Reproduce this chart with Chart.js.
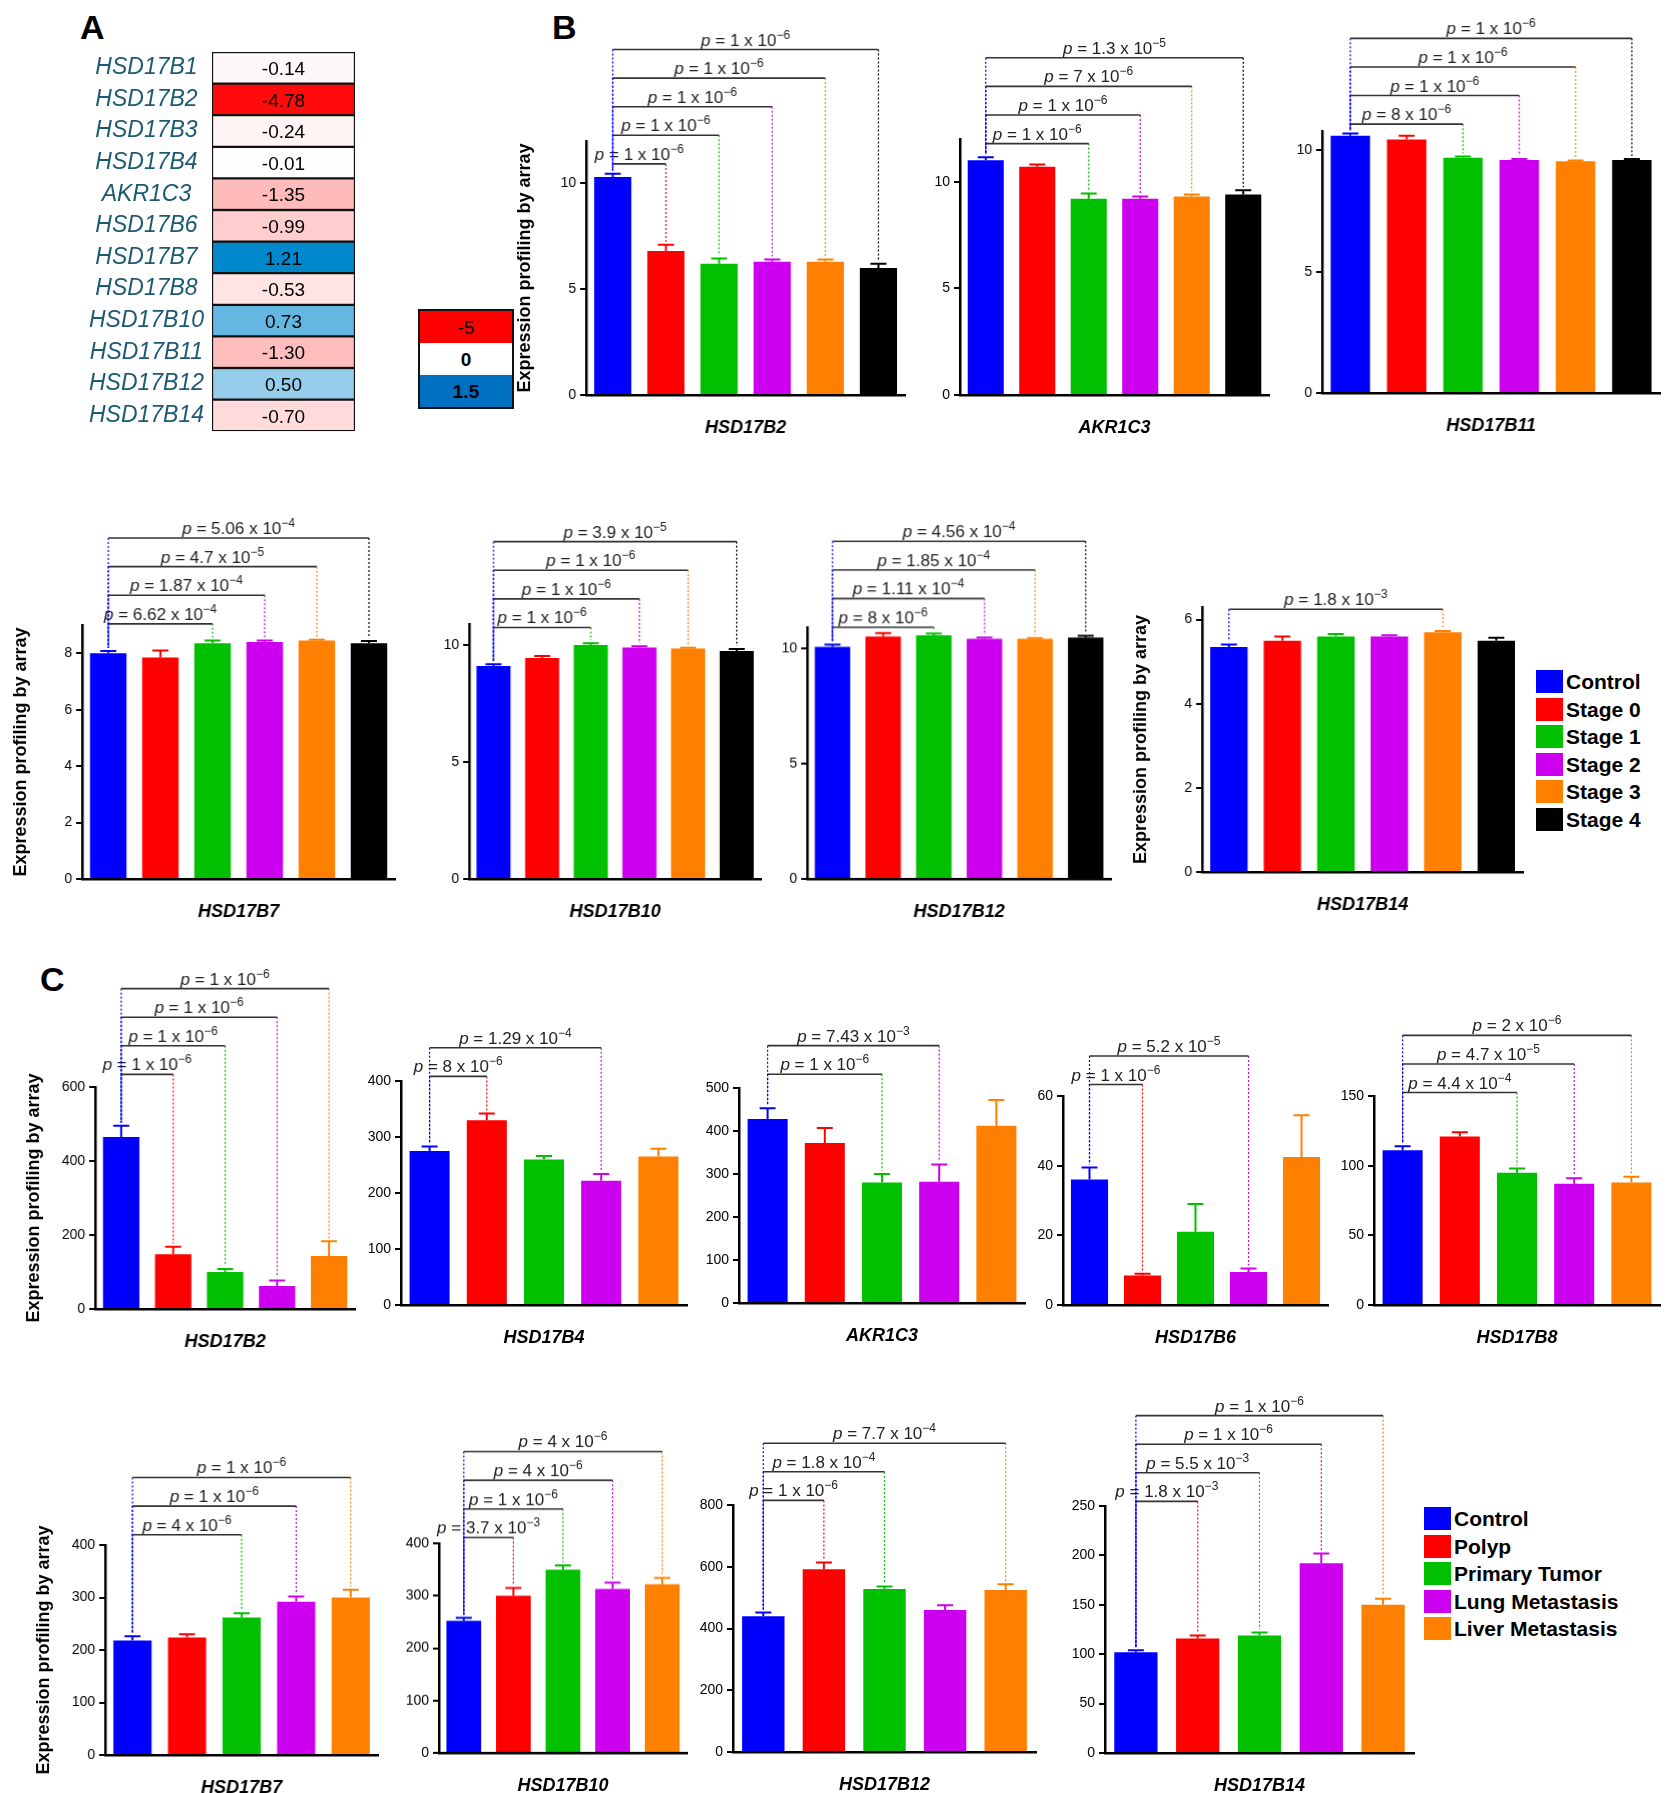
<!DOCTYPE html>
<html lang="en">
<head>
<meta charset="UTF-8">
<title>HSD17B expression</title>
<script src="https://cdn.jsdelivr.net/npm/chart.js"></script>
<style>
  body { margin: 0; background: #fff; font-family: Arial, "Liberation Sans", sans-serif; }
  #page { position: relative; width: 1672px; height: 1793px; }
  canvas { position: absolute; }
  .lbl { position: absolute; font-weight: bold; font-size: 34px; }
  .leg { position: absolute; font-weight: bold; font-size: 21px; line-height: 27.5px; }
  .leg span { display: inline-block; width: 27px; height: 23px; vertical-align: -4px; margin-right: 3px; }
  .hl { position: absolute; left: 418px; top: 309px; width: 92px; border: 2px solid #111; }
  .hl div { height: 32px; text-align: center; font-size: 19px; line-height: 34px; }
</style>
</head>
<body>
<div id="page">
  <div class="lbl" style="left:80px;top:8px">A</div>
  <div class="lbl" style="left:552px;top:8px">B</div>
  <div class="lbl" style="left:40px;top:960px">C</div>
  <div class="hl">
    <div style="background:#ff0000">-5</div>
    <div style="background:#fff;font-weight:bold">0</div>
    <div style="background:#0070c0;font-weight:bold">1.5</div>
  </div>
  <div class="leg" id="legB" style="left:1536px;top:668px"></div>
  <div class="leg" id="legC" style="left:1424px;top:1505px"></div>
</div>
<script>
  // ---- panel A: log fold change heat map
  const heatGenes = ['HSD17B1','HSD17B2','HSD17B3','HSD17B4','AKR1C3','HSD17B6','HSD17B7','HSD17B8','HSD17B10','HSD17B11','HSD17B12','HSD17B14'];
  const heatValues = [-0.14, -4.78, -0.24, -0.01, -1.35, -0.99, 1.21, -0.53, 0.73, -1.30, 0.50, -0.70];

  // ---- panel B: colon cancer stages
  const stageGroups = ['Control','Stage 0','Stage 1','Stage 2','Stage 3','Stage 4'];
  const stageColors = ['#0000ff','#ff0000','#00c000','#cc00ee','#ff8000','#000000'];

  const B_HSD17B2 = [10.3, 6.8, 6.2, 6.3, 6.3, 6.0];
  const B_HSD17B2_err = [0.15, 0.3, 0.25, 0.1, 0.1, 0.2];
  const B_HSD17B2_p = [[1,'1','-6'],[2,'1','-6'],[3,'1','-6'],[4,'1','-6'],[5,'1','-6']];

  const B_AKR1C3 = [11.0, 10.7, 9.2, 9.2, 9.3, 9.4];
  const B_AKR1C3_err = [0.15, 0.1, 0.25, 0.1, 0.1, 0.2];
  const B_AKR1C3_p = [[2,'1','-6'],[3,'1','-6'],[4,'7','-6'],[5,'1.3','-5']];

  const B_HSD17B11 = [10.6, 10.45, 9.7, 9.6, 9.55, 9.6];
  const B_HSD17B11_err = [0.1, 0.15, 0.05, 0.05, 0.03, 0.05];
  const B_HSD17B11_p = [[2,'8','-6'],[3,'1','-6'],[4,'1','-6'],[5,'1','-6']];

  const B_HSD17B7 = [8.0, 7.85, 8.35, 8.4, 8.45, 8.35];
  const B_HSD17B7_err = [0.08, 0.25, 0.1, 0.05, 0.03, 0.08];
  const B_HSD17B7_p = [[2,'6.62','-4'],[3,'1.87','-4'],[4,'4.7','-5'],[5,'5.06','-4']];

  const B_HSD17B10 = [9.1, 9.45, 10.0, 9.9, 9.85, 9.75];
  const B_HSD17B10_err = [0.08, 0.08, 0.08, 0.05, 0.03, 0.08];
  const B_HSD17B10_p = [[2,'1','-6'],[3,'1','-6'],[4,'1','-6'],[5,'3.9','-5']];

  const B_HSD17B12 = [10.05, 10.5, 10.55, 10.4, 10.4, 10.45];
  const B_HSD17B12_err = [0.1, 0.15, 0.08, 0.05, 0.03, 0.08];
  const B_HSD17B12_p = [[2,'8','-6'],[3,'1.11','-4'],[4,'1.85','-4'],[5,'4.56','-4']];

  const B_HSD17B14 = [5.35, 5.5, 5.6, 5.6, 5.7, 5.5];
  const B_HSD17B14_err = [0.06, 0.1, 0.06, 0.03, 0.03, 0.07];
  const B_HSD17B14_p = [[4,'1.8','-3']];

  // ---- panel C: polyp / tumor / metastasis
  const tumorGroups = ['Control','Polyp','Primary Tumor','Lung Metastasis','Liver Metastasis'];
  const tumorColors = ['#0000ff','#ff0000','#00c000','#cc00ee','#ff8000'];

  const C_HSD17B2 = [465, 148, 100, 62, 143];
  const C_HSD17B2_err = [30, 20, 8, 15, 40];
  const C_HSD17B2_p = [[1,'1','-6'],[2,'1','-6'],[3,'1','-6'],[4,'1','-6']];

  const C_HSD17B4 = [275, 330, 260, 222, 265];
  const C_HSD17B4_err = [8, 12, 6, 12, 14];
  const C_HSD17B4_p = [[1,'8','-6'],[3,'1.29','-4']];

  const C_AKR1C3 = [428, 372, 280, 282, 412];
  const C_AKR1C3_err = [25, 35, 20, 40, 60];
  const C_AKR1C3_p = [[2,'1','-6'],[3,'7.43','-3']];

  const C_HSD17B6 = [36, 8.5, 21, 9.5, 42.5];
  const C_HSD17B6_err = [3.5, 0.5, 8, 1, 12];
  const C_HSD17B6_p = [[1,'1','-6'],[3,'5.2','-5']];

  const C_HSD17B8 = [111, 121, 95, 87, 88];
  const C_HSD17B8_err = [3, 3, 3, 4, 4];
  const C_HSD17B8_p = [[2,'4.4','-4'],[3,'4.7','-5'],[4,'2','-6']];

  const C_HSD17B7 = [218, 224, 262, 292, 300];
  const C_HSD17B7_err = [8, 6, 8, 10, 15];
  const C_HSD17B7_p = [[2,'4','-6'],[3,'1','-6'],[4,'1','-6']];

  const C_HSD17B10 = [252, 300, 350, 313, 322];
  const C_HSD17B10_err = [6, 15, 8, 12, 12];
  const C_HSD17B10_p = [[1,'3.7','-3'],[2,'1','-6'],[3,'4','-6'],[4,'4','-6']];

  const C_HSD17B12 = [440, 592, 528, 460, 525];
  const C_HSD17B12_err = [12, 22, 8, 15, 18];
  const C_HSD17B12_p = [[1,'1','-6'],[2,'1.8','-4'],[4,'7.7','-4']];

  const C_HSD17B14 = [102, 116, 119, 192, 150];
  const C_HSD17B14_err = [2, 3, 3, 10, 6];
  const C_HSD17B14_p = [[1,'1.8','-3'],[2,'5.5','-3'],[3,'1','-6'],[4,'1','-6']];

  const S = 1.145;           // reference sketch px -> page px
  const YW = 72, XH = 48, PT = 118;
  const page = document.getElementById('page');

  function newCanvas(x, y, w, h) {
    const c = document.createElement('canvas');
    c.style.left = x + 'px'; c.style.top = y + 'px';
    c.style.width = w + 'px'; c.style.height = h + 'px';
    c.width = w; c.height = h;
    page.appendChild(c);
    return c;
  }

  function drawP(ctx, cx, y, mant, exp) {
    const f = '17px Arial', fi = 'italic 17px Arial', fe = '12px Arial';
    const body = ' = ' + mant + ' x 10', sup = exp.replace('-', '\u2212');
    ctx.font = fi; let w = ctx.measureText('p').width;
    ctx.font = f; w += ctx.measureText(body).width;
    ctx.font = fe; w += ctx.measureText(sup).width;
    let x = cx - w / 2;
    ctx.fillStyle = '#222'; ctx.textBaseline = 'alphabetic'; ctx.textAlign = 'left';
    ctx.font = fi; ctx.fillText('p', x, y); x += ctx.measureText('p').width;
    ctx.font = f; ctx.fillText(body, x, y); x += ctx.measureText(body).width;
    ctx.font = fe; ctx.fillText(sup, x, y - 7);
  }

  const barExtras = {
    id: 'barExtras',
    afterDatasetsDraw(chart) {
      const o = chart.options.plugins.barExtras;
      const ctx = chart.ctx, ys = chart.scales.y, bars = chart.getDatasetMeta(0).data;
      const vals = chart.data.datasets[0].data;
      const top = i => ys.getPixelForValue(vals[i] + o.err[i]);
      ctx.save();
      // error bars (upper only)
      bars.forEach((b, i) => {
        ctx.strokeStyle = o.colors[i]; ctx.lineWidth = 2;
        ctx.beginPath();
        ctx.moveTo(b.x, b.y); ctx.lineTo(b.x, top(i));
        ctx.moveTo(b.x - 8, top(i)); ctx.lineTo(b.x + 8, top(i));
        ctx.stroke();
      });
      // significance brackets
      o.p.forEach(([idx, mant, exp], k) => {
        const y = chart.chartArea.top + o.bStart * S - k * 28.6;
        const x0 = bars[0].x, x1 = bars[idx].x;
        ctx.setLineDash([2, 2]); ctx.lineWidth = 1.2;
        ctx.strokeStyle = o.colors[0];
        ctx.beginPath(); ctx.moveTo(x0, y); ctx.lineTo(x0, top(0) - 3); ctx.stroke();
        ctx.strokeStyle = o.colors[idx];
        ctx.beginPath(); ctx.moveTo(x1, y); ctx.lineTo(x1, top(idx) - 3); ctx.stroke();
        ctx.setLineDash([]); ctx.strokeStyle = '#333'; ctx.lineWidth = 1.6;
        ctx.beginPath(); ctx.moveTo(x0, y); ctx.lineTo(x1, y); ctx.stroke();
        drawP(ctx, (x0 + x1) / 2, y - 4, mant, exp);
      });
      ctx.restore();
    }
  };

  function barChart(spec) {
    const [xL, xR, yTop, y0] = spec.box;
    const cx = xL * S - YW, cy = yTop * S - PT;
    const cw = (xR - xL) * S + YW + 4, ch = PT + (y0 - yTop) * S + XH;
    const canvas = newCanvas(cx, cy, cw, ch);
    new Chart(canvas, {
      type: 'bar',
      data: {
        labels: spec.groups,
        datasets: [{ data: spec.vals, backgroundColor: spec.colors, barPercentage: 0.7, categoryPercentage: 1 }]
      },
      plugins: [barExtras],
      options: {
        responsive: false, animation: false,
        layout: { padding: { top: PT, right: 4 } },
        plugins: {
          legend: { display: false }, tooltip: { enabled: false },
          barExtras: { err: spec.err, p: spec.p, colors: spec.colors, bStart: spec.bStart }
        },
        scales: {
          x: {
            ticks: { display: false },
            grid: { display: false },
            border: { color: '#000', width: 2.5 },
            title: { display: true, text: spec.gene, font: { size: 18, weight: 'bold', style: 'italic' }, color: '#000', padding: { top: 12 } },
            afterFit: s => { s.height = XH; }
          },
          y: {
            min: 0, max: spec.ymax,
            ticks: { color: '#000', font: { size: 14 }, padding: 4 },
            afterBuildTicks: s => {
              const t = [];
              for (let v = 0; v <= spec.ymax + 1e-9; v += spec.step) t.push({ value: v });
              s.ticks = t;
            },
            grid: { drawOnChartArea: false, color: '#000', tickLength: 6, lineWidth: 2 },
            border: { color: '#000', width: 2.5 },
            title: { display: !!spec.yTitle, text: 'Expression profiling by array', font: { size: 18, weight: 'bold' }, color: '#000', padding: 0 },
            afterFit: s => { s.width = YW; }
          }
        }
      }
    });
  }

  const B = (vals, err, p, gene, box, ymax, step, bStart, yTitle) =>
    barChart({ groups: stageGroups, colors: stageColors, vals, err, p, gene, box, ymax, step, bStart, yTitle });
  const C = (vals, err, p, gene, box, ymax, step, bStart, yTitle) =>
    barChart({ groups: tumorGroups, colors: tumorColors, vals, err, p, gene, box, ymax, step, bStart, yTitle });

  B(B_HSD17B2, B_HSD17B2_err, B_HSD17B2_p, 'HSD17B2', [512, 790, 123, 345], 12, 5, 20, true);
  B(B_AKR1C3, B_AKR1C3_err, B_AKR1C3_p, 'AKR1C3', [838, 1108, 121, 345], 12, 5, 4);
  B(B_HSD17B11, B_HSD17B11_err, B_HSD17B11_p, 'HSD17B11', [1155, 1450, 114, 343], 10.8, 5, -6);
  B(B_HSD17B7, B_HSD17B7_err, B_HSD17B7_p, 'HSD17B7', [72, 345, 546, 768], 9, 2, -1, true);
  B(B_HSD17B10, B_HSD17B10_err, B_HSD17B10_p, 'HSD17B10', [410, 665, 545, 768], 10.9, 5, 3);
  B(B_HSD17B12, B_HSD17B12_err, B_HSD17B12_p, 'HSD17B12', [705, 970, 548, 768], 10.9, 5, 0);
  B(B_HSD17B14, B_HSD17B14_err, B_HSD17B14_p, 'HSD17B14', [1050, 1330, 530, 762], 6.3, 2, 2, true);

  C(C_HSD17B2, C_HSD17B2_err, C_HSD17B2_p, 'HSD17B2', [83, 310, 949, 1143], 600, 200, -11, true);
  C(C_HSD17B4, C_HSD17B4_err, C_HSD17B4_p, 'HSD17B4', [350, 600, 944, 1140], 400, 100, -4);
  C(C_AKR1C3, C_AKR1C3_err, C_AKR1C3_p, 'AKR1C3', [645, 895, 950, 1138], 500, 100, -12);
  C(C_HSD17B6, C_HSD17B6_err, C_HSD17B6_p, 'HSD17B6', [928, 1160, 957, 1140], 60, 20, -10);
  C(C_HSD17B8, C_HSD17B8_err, C_HSD17B8_p, 'HSD17B8', [1200, 1450, 957, 1140], 150, 50, -3);
  C(C_HSD17B7, C_HSD17B7_err, C_HSD17B7_p, 'HSD17B7', [92, 330, 1349, 1533], 400, 100, -9, true);
  C(C_HSD17B10, C_HSD17B10_err, C_HSD17B10_p, 'HSD17B10', [383, 600, 1348, 1531], 400, 100, -5);
  C(C_HSD17B12, C_HSD17B12_err, C_HSD17B12_p, 'HSD17B12', [640, 905, 1314, 1530], 800, 200, -4);
  C(C_HSD17B14, C_HSD17B14_err, C_HSD17B14_p, 'HSD17B14', [965, 1235, 1315, 1531], 250, 50, -4);

  // ---- heat map (panel A)
  function heatColor(v) {
    if (v < 0) { const t = Math.min(1, -v / 5); const g = Math.round(255 * (1 - t)); return `rgb(255,${g},${g})`; }
    const t = Math.min(1, v / 1.2);
    return `rgb(${Math.round(255 * (1 - t))},${Math.round(255 - 119 * t)},${Math.round(255 - 51 * t)})`;
  }
  const heatText = {
    id: 'heatText',
    afterDatasetsDraw(chart) {
      const ctx = chart.ctx;
      ctx.save();
      ctx.font = '19px Arial'; ctx.fillStyle = '#000'; ctx.textAlign = 'center'; ctx.textBaseline = 'middle';
      chart.getDatasetMeta(0).data.forEach((b, i) => {
        ctx.fillText(heatValues[i].toFixed(2), (chart.chartArea.left + chart.chartArea.right) / 2, b.y + 2);
      });
      ctx.restore();
    }
  };
  new Chart(newCanvas(0, 0, 360, 445), {
    type: 'bar',
    data: {
      labels: heatGenes,
      datasets: [{
        data: heatValues.map(() => [0, 1]),
        backgroundColor: heatValues.map(heatColor),
        borderColor: '#111', borderWidth: 1.5, borderSkipped: false,
        barPercentage: 1, categoryPercentage: 1
      }]
    },
    plugins: [heatText],
    options: {
      indexAxis: 'y', responsive: false, animation: false,
      layout: { padding: { top: 52, right: 5, bottom: 7, left: 62 } },
      plugins: { legend: { display: false }, tooltip: { enabled: false } },
      scales: {
        x: { display: false, min: 0, max: 1 },
        y: {
          grid: { display: false }, border: { display: false },
          ticks: { color: '#1b5a72', font: { size: 23, style: 'italic' }, crossAlign: 'center', padding: 0 },
          afterFit: s => { s.width = 150; }
        }
      }
    }
  });

  // ---- legends
  const legend = (id, names, colors) => {
    document.getElementById(id).innerHTML = names.map((n, i) =>
      `<div><span style="background:${colors[i]}"></span>${n}</div>`).join('');
  };
  legend('legB', stageGroups, stageColors);
  legend('legC', tumorGroups, tumorColors);
</script>
</body>
</html>
